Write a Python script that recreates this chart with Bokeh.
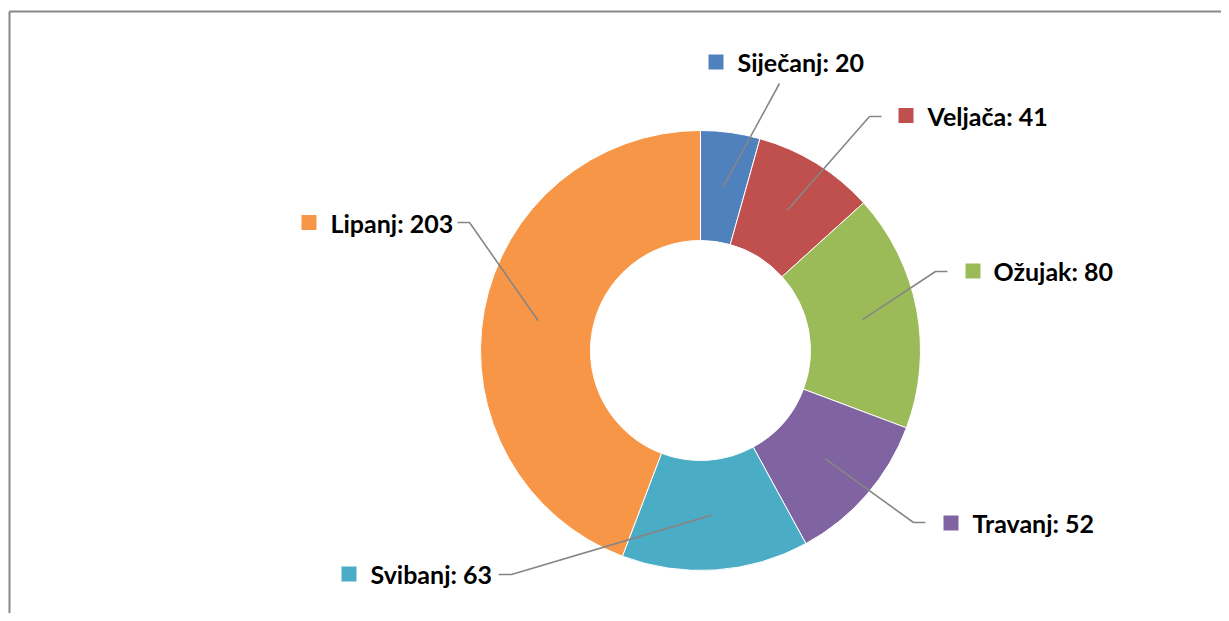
import math
from bokeh.plotting import figure
from bokeh.models import Range1d
from bokeh.core.properties import value
from bokeh.embed import file_html
from bokeh.resources import INLINE

# ---- data ----
months = ["Siječanj", "Veljača", "Ožujak", "Travanj", "Svibanj", "Lipanj"]
counts = [20, 41, 80, 52, 63, 203]
colors = ["#4F81BD", "#C0504D", "#9BBB59", "#8064A2", "#4BACC6", "#F79646"]

# ---- layout (page pixel positions of label boxes) ----
W, H = 1221, 613
cx, cy_page = 700, 350
r_out, r_in = 220, 110
label_marker_x = [715.5, 905.5, 972.5, 950.5, 348.5, 308.5]
label_marker_y = [61.5, 115, 270.5, 522.5, 573.5, 222]
label_text_x = [737, 927, 993, 972, 370, 330]
# leader start points (page) and optional elbow
leader_start = [(779, 83), (881, 116), (947, 271), (925, 522), (498, 574), (457, 222)]
leader_elbow = [None, (869, 116), (935, 271), (913, 522), (511, 574), (469, 222)]


def Y(py):
    return H - py


p = figure(width=W, height=H, output_backend="svg", toolbar_location=None,
           x_range=Range1d(0, W), y_range=Range1d(0, H),
           min_border=0, min_border_left=0, min_border_right=0,
           min_border_top=0, min_border_bottom=0)
p.axis.visible = False
p.grid.visible = False
p.outline_line_color = None
p.background_fill_color = "white"
p.border_fill_color = "white"

# chart border (left and top visible)
p.line([9, 9], [Y(11), Y(700)], line_color="#888888", line_width=2)
p.line([9, 1400], [Y(11), Y(11)], line_color="#888888", line_width=2)

total = sum(counts)
cy = Y(cy_page)
starts, ends, mids = [], [], []
cum = 0
for c in counts:
    a0 = math.pi / 2 - 2 * math.pi * cum / total
    a1 = math.pi / 2 - 2 * math.pi * (cum + c) / total
    starts.append(a1)
    ends.append(a0)
    mids.append(math.pi / 2 - 2 * math.pi * (cum + c / 2) / total)
    cum += c

p.annular_wedge(x=[cx] * len(counts), y=[cy] * len(counts),
                inner_radius=r_in, outer_radius=r_out,
                start_angle=starts, end_angle=ends,
                fill_color=colors, line_color="white", line_width=1)

# leader lines
r_mid = (r_in + r_out) / 2
for i in range(len(counts)):
    ex = cx + r_mid * math.cos(mids[i])
    ey = cy + r_mid * math.sin(mids[i])
    xs = [leader_start[i][0]]
    ys = [Y(leader_start[i][1])]
    if leader_elbow[i] is not None:
        xs.append(leader_elbow[i][0])
        ys.append(Y(leader_elbow[i][1]))
    xs.append(ex)
    ys.append(ey)
    p.line(xs, ys, line_color="#868686", line_width=1.6)

# label markers
p.rect(x=label_marker_x, y=[Y(v) for v in label_marker_y], width=15, height=15,
       fill_color=colors, line_color=None)

labels = [f"{m}: {c}" for m, c in zip(months, counts)]
p.text(x=label_text_x, y=[Y(v) for v in label_marker_y], text=labels,
       text_font=value("Lato"), text_font_style="bold", text_font_size="25px",
       text_color="#000000", text_baseline="middle", text_align="left")

open("out.html", "w").write(file_html(p, INLINE))
